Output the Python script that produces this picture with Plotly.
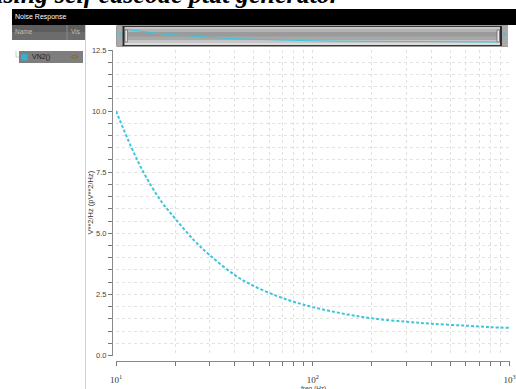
import plotly.graph_objects as go

W, H = 516, 389

# ---- data ----
freq_hz = [10, 12, 14, 17, 20, 25, 30, 40, 50, 65, 80, 100, 150, 200, 300, 400, 600, 800, 1000]
vn2_pv2 = [10.0, 8.5, 7.4, 6.3, 5.6, 4.7, 4.1, 3.3, 2.85, 2.45, 2.2, 1.98, 1.68, 1.52, 1.38, 1.30, 1.22, 1.16, 1.13]

x_tick_vals = [10, 100, 1000]
x_tick_text = ["10<sup>1</sup>", "10<sup>2</sup>", "10<sup>3</sup>"]
x_minor_vals = [20, 30, 40, 50, 60, 70, 80, 90, 200, 300, 400, 500, 600, 700, 800, 900]

title_text = "using self cascode ptat generator"
window_title = "Noise Response"
legend_name = "VN2()"
x_title = "freq (Hz)"
y_title = "V**2/Hz (pV**2/Hz)"

CYAN = "#3fc3de"


def px(x):
    return x / W


def py(y):
    return 1 - y / H


fig = go.Figure()
fig.add_trace(go.Scatter(
    x=freq_hz, y=vn2_pv2, mode="lines", name=legend_name,
    line=dict(color=CYAN, width=2, dash="3px,2px", shape="spline"),
    xaxis="x", yaxis="y", showlegend=False,
))
# overview line inside the scroll bar
fig.add_trace(go.Scatter(
    x=freq_hz, y=vn2_pv2, mode="lines", line=dict(color="#39c6e0", width=1),
    xaxis="x2", yaxis="y2", showlegend=False, hoverinfo="skip",
))

shapes = []


def rect(x0, y0, x1, y1, fill, line=None, lw=0, layer="above"):
    shapes.append(dict(type="rect", xref="paper", yref="paper",
                       x0=px(x0), x1=px(x1), y0=py(y0), y1=py(y1),
                       fillcolor=fill, line=dict(color=line or fill, width=lw),
                       layer=layer))


def seg(x0, y0, x1, y1, color, lw=1, layer="above"):
    shapes.append(dict(type="line", xref="paper", yref="paper",
                       x0=px(x0), x1=px(x1), y0=py(y0), y1=py(y1),
                       line=dict(color=color, width=lw), layer=layer))


# black window bar
rect(12, 9, 516, 25, "#000000")
# left panel header
rect(12, 25, 85, 32, "#5e5e5e")
rect(12, 32, 85, 40, "#6c6c6c")
seg(67, 25, 67, 40, "#888888")
# panel separator
seg(85.5, 25, 85.5, 389, "#cfcfcf")
# legend row
seg(16, 51, 16, 57, "#cccccc")
seg(16, 57, 19, 57, "#cccccc")
rect(19, 51, 83, 63, "#7e7e7e")
rect(21, 54, 27.5, 60.5, "#3aaed0")
shapes.append(dict(type="circle", xref="paper", yref="paper",
                   x0=px(71.5), x1=px(77.5), y0=py(58.5), y1=py(55.5),
                   fillcolor="#8d7d45", line=dict(color="#6d5d30", width=0.5)))

# scroll bar
rect(116.5, 25.5, 508, 46.5, "#3c3a38", layer="below")
rect(118, 27, 506.5, 45, "#9a9a9a", layer="below")
rect(118, 27, 506.5, 29.5, "#c9c9c9", layer="below")
rect(118, 29.5, 506.5, 32, "#b3b3b3", layer="below")
rect(118, 36.5, 506.5, 40, "#a8a8a8", layer="below")
rect(118, 40, 506.5, 43, "#c6c6c6", layer="below")
rect(118, 43, 506.5, 45, "#dcdcdc", layer="below")
# end caps
rect(117, 26, 122.5, 46, "#a9a9a9")
rect(502, 26, 508, 46, "#a9a9a9")
rect(122.5, 26, 124.5, 46, "#2f2d2b")
rect(500, 26, 502, 46, "#2f2d2b")
# handles
rect(125, 30, 127.5, 42, "#e6e6e6", line="#555555", lw=0.6)
rect(497, 30, 499.5, 42, "#e6e6e6", line="#555555", lw=0.6)
# arrows
shapes.append(dict(type="path", xref="paper", yref="paper",
                   path=f"M {px(121)} {py(32)} L {px(118.5)} {py(34.5)} L {px(121)} {py(37)} Z",
                   fillcolor=CYAN, line=dict(color=CYAN, width=0)))
shapes.append(dict(type="path", xref="paper", yref="paper",
                   path=f"M {px(503.5)} {py(32)} L {px(506)} {py(34.5)} L {px(503.5)} {py(37)} Z",
                   fillcolor=CYAN, line=dict(color=CYAN, width=0)))

annotations = [
    dict(text=f"<b><i>{title_text}</i></b>", x=px(-13), y=py(-5), xref="paper", yref="paper",
         xanchor="left", yanchor="middle", showarrow=False,
         font=dict(family="Liberation Serif", size=26, color="#000000")),
    dict(text=window_title, x=px(13), y=py(17), xref="paper", yref="paper",
         xanchor="left", yanchor="middle", showarrow=False,
         font=dict(family="Liberation Sans", size=7, color="#ffffff")),
    dict(text="Name", x=px(13), y=py(31), xref="paper", yref="paper",
         xanchor="left", yanchor="middle", showarrow=False,
         font=dict(family="Liberation Sans", size=6.5, color="#bdbdbd")),
    dict(text="Vis", x=px(69), y=py(31), xref="paper", yref="paper",
         xanchor="left", yanchor="middle", showarrow=False,
         font=dict(family="Liberation Sans", size=6.5, color="#bdbdbd")),
    dict(text=legend_name, x=px(29.5), y=py(57), xref="paper", yref="paper",
         xanchor="left", yanchor="middle", showarrow=False,
         font=dict(family="Liberation Sans", size=7, color="#1a1a1a")),
    dict(text=x_title, x=px(313), y=py(388.5), xref="paper", yref="paper",
         xanchor="center", yanchor="middle", showarrow=False,
         font=dict(family="Liberation Sans", size=6.5, color="#444444")),
    dict(text=y_title, x=px(89.5), y=py(203), xref="paper", yref="paper",
         xanchor="center", yanchor="middle", showarrow=False, textangle=-90,
         font=dict(family="Liberation Sans", size=7.5, color="#333333")),
]

grid = "#e2e2e2"
fig.update_layout(
    width=W, height=H,
    margin=dict(l=0, r=0, t=0, b=0, autoexpand=False),
    paper_bgcolor="#ffffff", plot_bgcolor="#ffffff",
    showlegend=False,
    xaxis=dict(
        type="log", range=[1, 3], domain=[px(116), px(509.5)],
        anchor="free", position=py(361),
        showline=True, linecolor="#8a8a8a", linewidth=1,
        ticks="outside", ticklen=4, tickcolor="#777777",
        tickmode="array", tickvals=x_tick_vals, ticktext=x_tick_text,
        ticklabelstandoff=6,
        tickfont=dict(family="Liberation Serif", size=9, color="#333333"),
        showgrid=True, gridcolor=grid, griddash="dot", gridwidth=1,
        minor=dict(tickmode="array", tickvals=x_minor_vals, ticks="outside",
                   ticklen=4, tickcolor="#777777", showgrid=True,
                   gridcolor=grid, griddash="dot"),
        zeroline=False, fixedrange=True, automargin=False,
    ),
    yaxis=dict(
        range=[0, 12.5], domain=[py(355.5), py(50)],
        anchor="free", position=px(112),
        showline=True, linecolor="#8a8a8a", linewidth=1,
        ticks="outside", ticklen=4, tickcolor="#777777",
        tickmode="linear", tick0=0, dtick=2.5, tickformat=".1f",
        ticklabelstandoff=0,
        tickfont=dict(family="Liberation Sans", size=7.5, color="#444444"),
        showgrid=True, gridcolor=grid, griddash="dot", gridwidth=1,
        minor=dict(dtick=0.5, ticks="outside", ticklen=4, tickcolor="#777777",
                   showgrid=True, gridcolor=grid, griddash="dot"),
        zeroline=False, fixedrange=True, automargin=False,
    ),
    xaxis2=dict(type="log", range=[1, 3], domain=[px(127), px(497)], anchor="y2",
                visible=False, fixedrange=True),
    yaxis2=dict(range=[0, 10], domain=[py(43.6), py(29.3)], anchor="x2",
                visible=False, fixedrange=True),
    shapes=shapes,
    annotations=annotations,
)

fig.write_html("out.html")
